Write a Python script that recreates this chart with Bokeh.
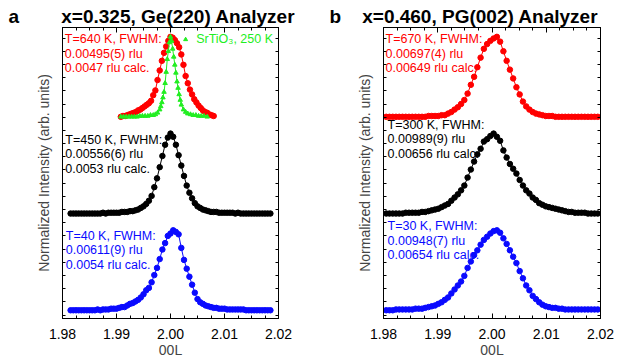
import numpy as np
from bokeh.plotting import figure
from bokeh.layouts import row
from bokeh.models import (Label, LinearAxis, FixedTicker, Range1d, SingleIntervalTicker,
                          PrintfTickFormatter, CustomJSTickFormatter, Legend, LegendItem)
from bokeh.embed import file_html
from bokeh.resources import INLINE

# ---------------- data ----------------
# panel a: x=0.325, Ge(220) analyzer ; scan grid in 00L
L_a = np.round(1.9815 + 0.0005 * np.arange(75), 4)
I_a_450K = [
    0.00, 0.00, 0.00, 0.00, 0.00, 0.00, 0.00, 0.00, 0.00, 0.00,
    0.00, 0.00, 0.01, 0.00, 0.01, 0.01, 0.01, 0.01, 0.01, 0.02,
    0.02, 0.02, 0.03, 0.03, 0.04, 0.05, 0.07, 0.09, 0.12, 0.16,
    0.22, 0.33, 0.44, 0.58, 0.72, 0.86, 0.95, 1.00, 0.96, 0.86,
    0.73, 0.60, 0.47, 0.35, 0.26, 0.19, 0.13, 0.09, 0.07, 0.05,
    0.04, 0.03, 0.02, 0.02, 0.02, 0.01, 0.01, 0.01, 0.01, 0.01,
    0.01, 0.00, 0.01, 0.00, 0.00, 0.00, 0.00, 0.00, 0.00, 0.00,
    0.00, 0.00, 0.00, 0.00, 0.00]
I_a_40K = [
    0.00, 0.00, 0.00, 0.00, 0.00, 0.00, 0.00, 0.00, 0.00, 0.00,
    0.01, 0.00, 0.01, 0.01, 0.01, 0.02, 0.02, 0.02, 0.03, 0.04,
    0.04, 0.06, 0.08, 0.09, 0.11, 0.13, 0.16, 0.20, 0.25, 0.28,
    0.35, 0.44, 0.53, 0.64, 0.76, 0.84, 0.93, 0.96, 1.00, 0.98,
    0.95, 0.78, 0.63, 0.52, 0.42, 0.32, 0.22, 0.14, 0.10, 0.08,
    0.06, 0.05, 0.04, 0.03, 0.03, 0.02, 0.02, 0.02, 0.01, 0.01,
    0.01, 0.01, 0.01, 0.01, 0.01, 0.00, 0.00, 0.00, 0.00, 0.00,
    0.00, 0.00, 0.00, 0.00, 0.00]
L_a_640K = np.round(1.9908 + 0.0004 * np.arange(44), 4)
I_a_640K = [
    0.00, 0.01, 0.01, 0.02, 0.03, 0.04, 0.05, 0.06, 0.08, 0.09,
    0.11, 0.13, 0.15, 0.17, 0.20, 0.27, 0.33, 0.46, 0.58, 0.70,
    0.80, 0.88, 0.95, 1.00, 0.99, 0.96, 0.92, 0.87, 0.78, 0.65,
    0.51, 0.42, 0.34, 0.28, 0.22, 0.18, 0.14, 0.11, 0.08, 0.06,
    0.05, 0.03, 0.02, 0.01]
L_a_sto = [1.9908, 1.9913, 1.9918, 1.9923, 1.9928, 1.9933, 1.9938, 1.9943, 1.9948, 1.9953,
           1.9958, 1.9963, 1.9968, 1.9972, 1.9976, 1.9980, 1.9982, 1.9984, 1.9986, 1.9988,
           1.9990, 1.9992, 1.9994, 1.9996, 1.9998, 2.0000, 2.0002, 2.0004, 2.0006, 2.0008,
           2.0010, 2.0012, 2.0014, 2.0016, 2.0018, 2.0020, 2.0024, 2.0028, 2.0032, 2.0037,
           2.0042, 2.0047, 2.0052, 2.0057, 2.0062, 2.0068]
I_a_sto = [0.00, 0.00, 0.00, 0.00, 0.00, 0.00, 0.00, 0.01, 0.01, 0.01,
           0.01, 0.02, 0.02, 0.03, 0.05, 0.09, 0.13, 0.18, 0.24, 0.31,
           0.42, 0.56, 0.72, 0.82, 0.93, 1.00, 0.95, 0.85, 0.75, 0.65,
           0.55, 0.44, 0.36, 0.28, 0.21, 0.15, 0.09, 0.06, 0.04, 0.03,
           0.02, 0.02, 0.01, 0.01, 0.01, 0.00]

# panel b: x=0.460, PG(002) analyzer
L_b = np.round(1.9805 + 0.0006 * np.arange(66), 4)
I_b_670K = [
    0.00, 0.00, 0.00, 0.00, 0.00, 0.00, 0.00, 0.00, 0.00, 0.00,
    0.00, 0.00, 0.00, 0.01, 0.01, 0.01, 0.01, 0.02, 0.02, 0.04,
    0.06, 0.09, 0.12, 0.16, 0.21, 0.29, 0.40, 0.50, 0.62, 0.74,
    0.85, 0.91, 0.95, 0.98, 1.00, 0.94, 0.82, 0.70, 0.59, 0.48,
    0.37, 0.28, 0.19, 0.13, 0.09, 0.06, 0.04, 0.03, 0.02, 0.01,
    0.01, 0.01, 0.00, 0.00, 0.00, 0.00, 0.00, 0.00, 0.00, 0.00,
    0.00, 0.00, 0.00, 0.00, 0.00, 0.00]
I_b_300K = [
    0.00, 0.00, 0.00, 0.00, 0.00, 0.00, 0.01, 0.01, 0.01, 0.01,
    0.01, 0.02, 0.02, 0.03, 0.04, 0.05, 0.06, 0.08, 0.10, 0.12,
    0.16, 0.20, 0.24, 0.29, 0.35, 0.45, 0.55, 0.65, 0.74, 0.81,
    0.90, 0.93, 0.97, 1.00, 0.96, 0.91, 0.79, 0.70, 0.62, 0.56,
    0.50, 0.42, 0.35, 0.29, 0.25, 0.20, 0.17, 0.13, 0.11, 0.09,
    0.08, 0.07, 0.06, 0.05, 0.04, 0.03, 0.02, 0.02, 0.01, 0.01,
    0.01, 0.01, 0.00, 0.00, 0.00, 0.00]
I_b_30K = [
    0.00, 0.00, 0.00, 0.01, 0.01, 0.01, 0.01, 0.01, 0.01, 0.02,
    0.02, 0.02, 0.03, 0.04, 0.05, 0.06, 0.08, 0.10, 0.13, 0.16,
    0.21, 0.26, 0.31, 0.36, 0.43, 0.53, 0.61, 0.69, 0.75, 0.82,
    0.88, 0.92, 0.96, 0.99, 1.00, 0.97, 0.90, 0.83, 0.75, 0.67,
    0.59, 0.49, 0.40, 0.31, 0.25, 0.18, 0.14, 0.10, 0.07, 0.05,
    0.04, 0.03, 0.03, 0.02, 0.02, 0.01, 0.01, 0.01, 0.01, 0.01,
    0.01, 0.01, 0.01, 0.01, 0.01, 0.01]

# vertical stacking offsets (normalized units)
OFF_HIGH, OFF_MID, OFF_LOW = 2.42, 1.21, 0.0

TITLES = ["x=0.325, Ge(220) Analyzer", "x=0.460, PG(002) Analyzer"]
PANEL_TAGS = ["a", "b"]
ANNOT_A = [["T=640 K, FWHM:", "0.00495(5) rlu", "0.0047 rlu calc."],
           ["T=450 K, FWHM:", "0.00556(6) rlu", "0.0053 rlu calc."],
           ["T=40 K, FWHM:", "0.00611(9) rlu", "0.0054 rlu calc."]]
ANNOT_B = [["T=670 K, FWHM:", "0.00697(4) rlu", "0.00649 rlu calc."],
           ["T=300 K, FWHM:", "0.00989(9) rlu", "0.00656 rlu calc."],
           ["T=30 K, FWHM:", "0.00948(7) rlu", "0.00654 rlu calc."]]
STO_LABEL = "SrTiO\u2083, 250 K"

# ---------------- styling ----------------
RED, GREEN, BLUE, BLACK = "#ff0000", "#22ee22", "#0a0aff", "#000000"
FONT = "Liberation Sans"
Y0, Y1 = -0.103, 3.537
X0, X1 = 1.98, 2.02
NBSP = "\u00a0"


def make_fig(width, left, right, title, tag, gap, title_offset):
    p = figure(width=width, height=360, x_range=Range1d(X0, X1), y_range=Range1d(Y0, Y1),
               output_backend="svg", toolbar_location=None,
               min_border_left=left, min_border_right=right,
               min_border_top=27, min_border_bottom=40)
    p.title.text = tag + NBSP * gap + title
    p.title.align = "left"
    p.title.offset = title_offset
    p.title.text_font = FONT
    p.title.text_font_size = "19px"
    p.title.text_font_style = "bold"
    p.title.text_color = "black"
    p.title.standoff = 2
    p.xgrid.visible = False
    p.ygrid.visible = False
    p.outline_line_color = "black"
    p.outline_line_width = 1
    blank = CustomJSTickFormatter(code="return '';")
    xt = SingleIntervalTicker(interval=0.01, num_minor_ticks=4)
    yt = FixedTicker(ticks=np.round(np.arange(-0.06, 3.5, 0.165), 3).tolist(), minor_ticks=[])
    xa = p.xaxis[0]
    xa.ticker = xt
    xa.formatter = PrintfTickFormatter(format="%.2f")
    xa.major_tick_in, xa.major_tick_out = 5, 0
    xa.minor_tick_in, xa.minor_tick_out = 3, 0
    xa.major_label_text_font = FONT
    xa.major_label_text_font_size = "14px"
    xa.major_label_text_color = "black"
    xa.major_label_standoff = 10
    xa.axis_label = "00L"
    xa.axis_label_text_font = FONT
    xa.axis_label_text_font_size = "14px"
    xa.axis_label_text_font_style = "normal"
    xa.axis_label_standoff = 0
    ya = p.yaxis[0]
    ya.ticker = yt
    ya.formatter = blank
    ya.major_tick_in, ya.major_tick_out = 3, 0
    ya.axis_label = "Normalized Intensity (arb. units)"
    ya.axis_label_text_font = FONT
    ya.axis_label_text_font_size = "14px"
    ya.axis_label_text_font_style = "normal"
    ya.axis_label_standoff = 11
    top = LinearAxis(ticker=xt, formatter=blank, major_tick_in=5, major_tick_out=0,
                     minor_tick_in=3, minor_tick_out=0, major_label_standoff=0)
    rt = LinearAxis(ticker=yt, formatter=blank, major_tick_in=3, major_tick_out=0,
                    major_label_standoff=0)
    p.add_layout(top, "above")
    p.add_layout(rt, "right")
    return p


def curve(p, L, I, off, color, marker="circle", size=5.5):
    y = np.asarray(I) + off
    p.line(L, y, line_color=color, line_width=1)
    return p.scatter(L, y, marker=marker, size=size, fill_color=color, line_color=color)


def yref(py):
    return Y1 - (py - 27.0) / 293.0 * (Y1 - Y0)


def xref(panel, px):
    if panel == 0:
        return X0 + (px - 61.7) / 216.3 * (X1 - X0)
    return X0 + (px - 383.0) / 217.0 * (X1 - X0)


def text(p, x, y, s, color="black", size="12.5px"):
    p.add_layout(Label(x=x, y=y, text=s, text_color=color, text_font=FONT,
                       text_font_size=size, text_align="left", text_baseline="middle"))


# ---------------- panel a ----------------
pa = make_fig(310, 62, 32, TITLES[0], PANEL_TAGS[0], 8, -54)
curve(pa, L_a, I_a_40K, OFF_LOW, BLUE)
curve(pa, L_a, I_a_450K, OFF_MID, BLACK)
curve(pa, L_a_640K, I_a_640K, OFF_HIGH, RED)
sto = curve(pa, L_a_sto, I_a_sto, OFF_HIGH, GREEN, marker="triangle", size=4.5)
leg = Legend(items=[LegendItem(label=STO_LABEL, renderers=[sto])], location="top_right",
             border_line_alpha=0, background_fill_alpha=0, label_text_color=GREEN,
             label_text_font=FONT, label_text_font_size="12.5px", glyph_width=10,
             glyph_height=12, label_standoff=6, padding=4, margin=1, spacing=0,
             label_height=12)
pa.add_layout(leg)

# ---------------- panel b ----------------
pb = make_fig(308, 73, 18, TITLES[1], PANEL_TAGS[1], 4, -54)
curve(pb, L_b, I_b_30K, OFF_LOW, BLUE)
curve(pb, L_b, I_b_300K, OFF_MID, BLACK)
curve(pb, L_b, I_b_670K, OFF_HIGH, RED)

# ---------------- annotations ----------------
line_gap = 14.5
for k, (p, ann, starts) in enumerate([
        (pa, ANNOT_A, [(64.0, 39.0), (64.5, 140.0), (65.0, 237.0)]),
        (pb, ANNOT_B, [(385.0, 39.0), (387.0, 125.0), (387.0, 227.0)])]):
    for lines, (sx, sy), col in zip(ann, starts, [RED, BLACK, BLUE]):
        for j, s in enumerate(lines):
            text(p, xref(k, sx), yref(sy + j * line_gap), s, color=col)

layout = row(pa, pb)
open("out.html", "w").write(file_html(layout, INLINE))
